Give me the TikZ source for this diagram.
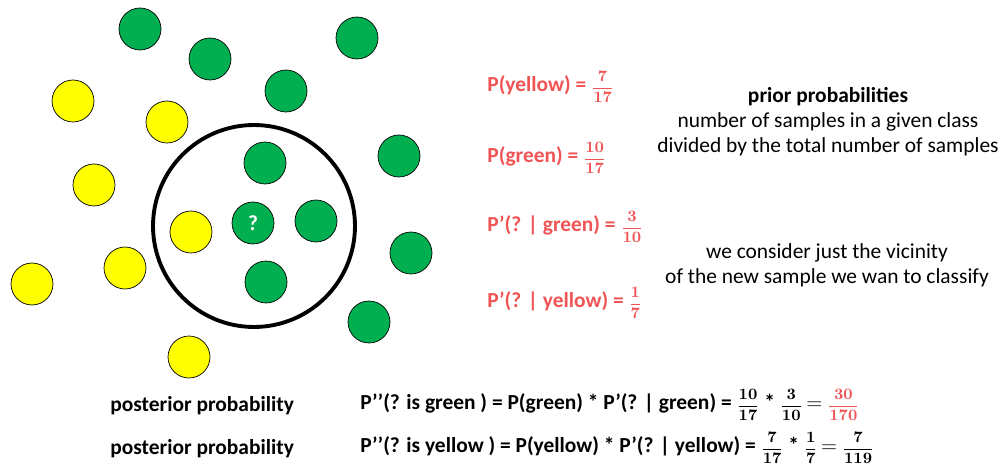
\documentclass[tikz,border=0pt]{standalone}
\usepackage{amsmath}
\usepackage[no-math]{fontspec}
\setmainfont{Carlito}
\usepackage{tikz}
\usetikzlibrary{positioning}
\definecolor{dotgreen}{RGB}{0,176,80}
\definecolor{dotyellow}{RGB}{255,255,0}
\definecolor{labred}{RGB}{240,84,84}
\newcommand{\txtsize}{\fontsize{12.2}{14.2}\selectfont}
\newcommand{\fr}[2]{{\fontsize{9.5}{11}\selectfont$\displaystyle\frac{\mathbf{#1}}{\mathbf{#2}}$}}
\newcommand{\meq}{{\fontsize{12}{12}\selectfont$=$}}
\tikzset{
  gdot/.style={circle,draw=black,thin,fill=dotgreen,minimum size=0.84cm,inner sep=0pt},
  ydot/.style={circle,draw=black,thin,fill=dotyellow,minimum size=0.84cm,inner sep=0pt},
  ring/.style={circle,draw=black,line width=2.2pt,minimum size=4.04cm,inner sep=0pt},
  plab/.style={font=\txtsize\bfseries,text=labred,anchor=west,inner sep=0pt},
  postlab/.style={font=\txtsize\bfseries,anchor=west,inner sep=0pt},
  notelab/.style={font=\txtsize,align=center,inner sep=0pt},
}
\begin{document}
\begin{tikzpicture}[x=0.02cm,y=-0.02cm]
        \useasboundingbox (0,0) rectangle (1000,469);
        % vicinity of the new sample
        \node[ring] (near) at (254,226) {};
        % green samples
        \node[gdot] (g1) at (140,29) {};
        \node[gdot] (g2) at (210,59) {};
        \node[gdot] (g3) at (357,38) {};
        \node[gdot] (g4) at (286,91) {};
        \node[gdot] (g5) at (265,163) {};
        \node[gdot] (g6) at (316,221) {};
        \node[gdot] (g7) at (266,282) {};
        \node[gdot] (g8) at (399,156) {};
        \node[gdot] (g9) at (411,253) {};
        \node[gdot] (g10) at (369,322) {};
        % new sample
        \node[gdot,text=white,font=\txtsize\bfseries] (new) at (253,223) {?};
        % yellow samples
        \node[ydot] (y1) at (73,101) {};
        \node[ydot] (y2) at (167,122) {};
        \node[ydot] (y3) at (94,185) {};
        \node[ydot] (y4) at (191,232) {};
        \node[ydot] (y5) at (125,268) {};
        \node[ydot] (y6) at (32,284) {};
        \node[ydot] (y7) at (189,357) {};
        % prior and vicinity probabilities
        \node[plab] (pyel) at (487,87) {P(yellow) = \fr{7}{17}};
        \node[plab] (pgrn) at (487,158) {P(green) = \fr{10}{17}};
        \node[plab] (cgrn) at (487,227) {P’(? | green) = \fr{3}{10}};
        \node[plab] (cyel) at (487,303) {P’(? | yellow) = \fr{1}{7}};
        % notes
        \node[notelab] (prior) at (828,122) {\textbf{prior probabilities}\\number of samples in a given class\\divided by the total number of samples};
        \node[notelab] (vicin) at (827,265) {we consider just the vicinity\\of the new sample we wan to classify};
        % posterior
        \node[postlab] (post1) at (110,406) {posterior probability};
        \node[postlab] (post2) at (110,449) {posterior probability};
        \node[postlab] (form1) at (360,405) {P’’(? is green ) = P(green) * P’(? | green) = \fr{10}{17} * \fr{3}{10}\,\meq{}\ {\color{labred}\fr{30}{170}}};
        \node[postlab] (form2) at (360,448) {P’’(? is yellow ) = P(yellow) * P’(? | yellow) = \fr{7}{17} * \fr{1}{7}\,\meq{}\ \fr{7}{119}};
      \end{tikzpicture}
\end{document}
